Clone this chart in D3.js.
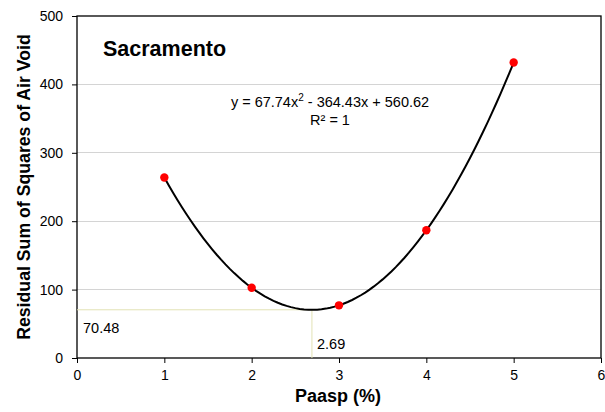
<!DOCTYPE html>
<html><head><meta charset="utf-8">
<script src="https://cdn.jsdelivr.net/npm/d3@7"></script>
<style>body{margin:0;background:#fff;}svg{display:block;font-family:Arial,"Liberation Sans",sans-serif;}</style>
</head><body>
<svg id="c" width="605" height="412"></svg>
<script>
const xValues = [1, 2, 3, 4, 5];
const yValues = [263.9, 102.7, 77.0, 186.7, 432.0];
const xTicks = [0, 1, 2, 3, 4, 5, 6];
const yTicks = [0, 100, 200, 300, 400, 500];
const trendCoef = [67.74, -364.43, 560.62];
const vertex = [2.69, 70.48];
const title = "Sacramento";
const eqText = ["y = 67.74x", "2", " - 364.43x + 560.62"];
const r2Text = "R² = 1";

const svg = d3.select("#c");
const L = 77, R = 601, T = 16, B = 358;
const x = d3.scaleLinear().domain([0, 6]).range([L, R]);
const y = d3.scaleLinear().domain([0, 500]).range([B, T]);

// gridlines
svg.append("g").selectAll("line").data(yTicks.filter(d => d > 0 && d < 500)).join("line")
  .attr("x1", L).attr("x2", R).attr("y1", d => y(d)).attr("y2", d => y(d))
  .attr("stroke", "#d4d4d4").attr("stroke-width", 1).attr("shape-rendering", "crispEdges");

// frame
svg.append("rect").attr("x", L).attr("y", T).attr("width", R - L).attr("height", B - T)
  .attr("fill", "none").attr("stroke", "#000").attr("stroke-width", 1.3);

// axes
const fmt = d3.format("d");
const yAxis = svg.append("g").attr("transform", `translate(${L},0)`)
  .call(d3.axisLeft(y).tickValues(yTicks).tickFormat(fmt).tickSize(5).tickPadding(9));
const xAxis = svg.append("g").attr("transform", `translate(0,${B})`)
  .call(d3.axisBottom(x).tickValues(xTicks).tickFormat(fmt).tickSize(5).tickPadding(7));
[yAxis, xAxis].forEach(a => {
  a.select(".domain").remove();
  a.selectAll("line").attr("stroke", "#000");
  a.selectAll("text").attr("font-size", 14).attr("fill", "#000").attr("font-family", "Arial, 'Liberation Sans', sans-serif");
});

// reference lines at the vertex
svg.append("line").attr("x1", x(0)).attr("x2", x(vertex[0])).attr("y1", y(vertex[1])).attr("y2", y(vertex[1]))
  .attr("stroke", "#e2e2b4").attr("stroke-width", 1);
svg.append("line").attr("x1", x(vertex[0])).attr("x2", x(vertex[0])).attr("y1", y(0)).attr("y2", y(vertex[1]))
  .attr("stroke", "#e2e2b4").attr("stroke-width", 1);
svg.append("text").attr("x", 83).attr("y", 333).attr("font-size", 14.5).text(vertex[1].toFixed(2));
svg.append("text").attr("x", 317).attr("y", 349).attr("font-size", 14.5).text(vertex[0].toFixed(2));

// trendline (polynomial from displayed coefficients)
const xs = d3.range(xValues[0], xValues[xValues.length - 1] + 0.0001, 0.05);
const trend = xs.map(v => [v, trendCoef[0] * v * v + trendCoef[1] * v + trendCoef[2]]);
svg.append("path").datum(trend)
  .attr("d", d3.line().x(d => x(d[0])).y(d => y(d[1])))
  .attr("fill", "none").attr("stroke", "#000").attr("stroke-width", 2);

// points
svg.append("g").selectAll("circle").data(xValues.map((v, i) => [v, yValues[i]])).join("circle")
  .attr("cx", d => x(d[0])).attr("cy", d => y(d[1])).attr("r", 4.2).attr("fill", "#ff0000");

// title
svg.append("text").attr("x", 103).attr("y", 56).attr("font-size", 21.5).attr("font-weight", "bold").text(title);

// equation
const eq = svg.append("text").attr("x", 330).attr("y", 107).attr("font-size", 14.5).attr("text-anchor", "middle");
eq.append("tspan").text(eqText[0]);
eq.append("tspan").attr("dy", -6).attr("font-size", 10).text(eqText[1]);
eq.append("tspan").attr("dy", 6).text(eqText[2]);
svg.append("text").attr("x", 330).attr("y", 125).attr("font-size", 14.5).attr("text-anchor", "middle").text(r2Text);

// axis titles
svg.append("text").attr("x", 338).attr("y", 402).attr("font-size", 18).attr("font-weight", "bold")
  .attr("text-anchor", "middle").text("Paasp (%)");
svg.append("text").attr("transform", "translate(30,187) rotate(-90)").attr("font-size", 17.7).attr("font-weight", "bold")
  .attr("text-anchor", "middle").text("Residual Sum of Squares of Air Void");
</script>
</body></html>
